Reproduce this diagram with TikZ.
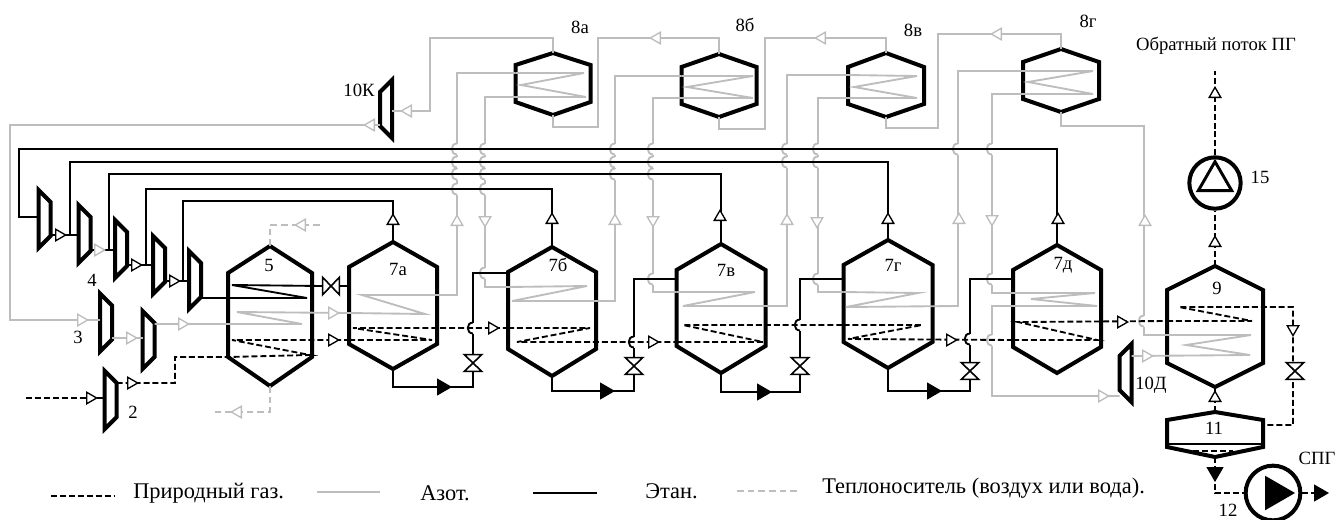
\documentclass[tikz,border=0pt]{standalone}
\usepackage{fontspec}
\setmainfont{Liberation Serif}
\usepackage{xcolor}
\usepackage{tikz}
\usetikzlibrary{shapes.geometric, arrows.meta, positioning}
\definecolor{mygray}{rgb}{0.74, 0.74, 0.74}
\tikzstyle{frame} = [inner sep=0pt, outer sep=0pt]
\tikzstyle{hullline} = [line width=3pt, line join=miter, black]
\tikzstyle{gaz} = [line width=1.4pt, black, dash pattern=on 4.5pt off 2.2pt]
\tikzstyle{azot} = [line width=1.4pt, mygray]
\tikzstyle{etan} = [line width=1.4pt, black]
\tikzstyle{heat} = [line width=1.4pt, mygray, dash pattern=on 5pt off 3pt]
\tikzstyle{tri} = [regular polygon, regular polygon sides=3, minimum size=10pt, inner sep=0pt, draw=black, fill=white, line width=1pt]
\tikzstyle{trigray} = [tri, draw=mygray]
\tikzstyle{trifull} = [tri, minimum size=13pt, fill=black]
\tikzstyle{lab} = [font=\fontsize{14}{16}\selectfont, inner sep=0pt]
\tikzstyle{legendtext} = [font=\fontsize{16.8}{19}\selectfont, inner sep=0pt, anchor=west]
% vessel: name, x, top, upper shoulder, lower shoulder, bottom, half width
\newcommand{\hull}[7]{
\node[frame, minimum width={#7*1.5pt}, minimum height={(#6-#3)*0.75pt}] (#1) at (#2,{(#3+#6)/2}) {};
\draw[hullline] (#1.north) -- (#1.east |- 0,#4) -- (#1.east |- 0,#5) -- (#1.south) -- (#1.west |- 0,#5) -- (#1.west |- 0,#4) -- cycle;
}
% compressor: name, x, y, side of the narrow end
\newcommand{\machine}[4]{
\node[frame, minimum width=9pt, minimum height=43.5pt] (#1) at (#2,#3) {};
\draw[hullline] ({#2-#4*6},#3-29) -- ({#2+#4*6},#3-17) -- ({#2+#4*6},#3+17) -- ({#2-#4*6},#3+29) -- cycle;
}
% valve: name, x, y, rotation
\newcommand{\valve}[4]{
\node[frame, minimum width=13pt, minimum height=12.5pt, rotate=#4] (#1) at (#2,#3) {};
\draw[line width=1.2pt, fill=white] (#1.north west) -- (#1.north east) -- (#1.south west) -- (#1.south east) -- cycle;
}
% line hopping over a crossing
\newcommand{\hop}[3]{
\fill[white] (#2-1.5,#3-5.5) rectangle (#2+1.5,#3+5.5);
\draw[#1] (#2,#3-5.5) .. controls (#2-7,#3-5.5) and (#2-7,#3+5.5) .. (#2,#3+5.5);
}

\begin{document}
\begin{tikzpicture}[x=0.75pt,y=-0.75pt,>=Stealth]
\useasboundingbox (0,0) rectangle (1336,519);

\hull{v5}{270}{246}{273}{357}{386}{42}
\hull{v7a}{393}{242}{267}{344}{369}{44}
\hull{v7b}{552}{247}{272}{349}{376}{44}
\hull{v7v}{721}{244}{270}{346}{373}{44.5}
\hull{v7g}{888}{240}{265}{342}{368}{44.5}
\hull{v7d}{1057}{245}{270}{347}{373}{44}
\hull{v9}{1215}{266}{290}{363}{387}{48}
\hull{v11}{1215}{412}{420}{447}{457}{48}
\hull{e8a}{553}{53}{65}{102}{115}{37.5}
\hull{e8b}{719}{54}{67}{104}{117}{37.5}
\hull{e8v}{886}{53}{67}{104}{117}{38}
\hull{e8g}{1061}{49}{62}{99}{112}{38}

\machine{comp1}{44.5}{219}{1}
\machine{comp2}{84.5}{234}{1}
\machine{comp3}{121}{249}{1}
\machine{comp4}{159}{265}{1}
\machine{comp5}{195}{280}{1}
\machine{tur3a}{106}{322.5}{1}
\machine{tur3b}{148.5}{340}{1}
\machine{tur2}{110.7}{400}{1}
\machine{tur10k}{386}{109}{-1}
\machine{tur10d}{1125.5}{373}{-1}

\node[circle, draw, line width=3pt, minimum size=38.5pt, inner sep=0pt] (pump15) at (1215,183) {};
\node[circle, draw, line width=3pt, minimum size=41pt, inner sep=0pt] (pump12) at (1273,493) {};
\node[regular polygon, regular polygon sides=3, draw, line width=2.2pt, minimum size=29pt, inner sep=0pt] (tri15) at (1215,181) {};
\node[regular polygon, regular polygon sides=3, fill=black, rotate=-90, minimum size=30pt, inner sep=0pt] (tri12) at (1275,493) {};

% nitrogen
\draw[azot] (tur10k.west |- 0,125) -- (10,125) -- (10,320) -- (tur3a.west |- 0,320);
\draw[azot] (tur3a.east |- 0,338) -- (tur3b.west |- 0,338);
\draw[azot] (tur3b.east |- 0,324) -- (302,324) -- (237,312) -- (v7a.west |- 0,313);
\draw[azot] (v7a.west |- 0,313) -- (425,314) -- (362,295) -- (457,295) -- (457,73) -- (e8a.west |- 0,73);
\draw[azot] (e8a.west |- 0,73) -- (584,73) -- (521,85) -- (586,97) -- (485,97) -- (485,287) -- (v7b.west |- 0,287);
\draw[azot] (v7b.west |- 0,287) -- (587,286) -- (512,301) -- (615,301) -- (615,76) -- (e8b.west |- 0,76);
\draw[azot] (e8b.west |- 0,76) -- (753,76) -- (687,87) -- (753,98) -- (653,98) -- (653,292) -- (v7v.west |- 0,292);
\draw[azot] (v7v.west |- 0,292) -- (755,292) -- (683,306) -- (787,306) -- (787,75) -- (e8v.west |- 0,75);
\draw[azot] (e8v.west |- 0,75) -- (917,76) -- (854,87) -- (917,98) -- (818,98) -- (818,292) -- (v7g.west |- 0,292);
\draw[azot] (v7g.west |- 0,292) -- (918,293) -- (846,307) -- (958,306) -- (958,71) -- (e8g.west |- 0,71);
\draw[azot] (e8g.west |- 0,71) -- (1093,71) -- (1028,82) -- (1093,94) -- (992,94) -- (992,293) -- (v7d.west |- 0,293);
\draw[azot] (v7d.west |- 0,293) -- (1095,293) -- (1031,299) -- (1097,306) -- (992,306) -- (992,396) -- (tur10d.west |- 0,396);
\draw[azot] (tur10d.east |- 0,356) -- (1250,355) -- (1186,345) -- (1251,335) -- (1144,335) -- (1144,126) -- (e8g.south |- 0,126) -- (e8g.south);
\draw[azot] (e8g.north) -- (e8g.north |- 0,34) -- (938,34) -- (938,128) -- (e8v.south |- 0,128) -- (e8v.south);
\draw[azot] (e8v.north) -- (e8v.north |- 0,38) -- (765,38) -- (765,129) -- (e8b.south |- 0,129) -- (e8b.south);
\draw[azot] (e8b.north) -- (e8b.north |- 0,38) -- (598,38) -- (598,127) -- (e8a.south |- 0,127) -- (e8a.south);
\draw[azot] (e8a.north) -- (e8a.north |- 0,38) -- (430,38) -- (430,111) -- (tur10k.east |- 0,111);
\foreach \x in {457,485} \foreach \y in {149,162,174,189} {\hop{azot}{\x}{\y}}
\foreach \x in {615,653} \foreach \y in {149,162,174} {\hop{azot}{\x}{\y}}
\foreach \x in {787,818} \foreach \y in {149,162} {\hop{azot}{\x}{\y}}
\foreach \x in {958,992} {\hop{azot}{\x}{149}}
\foreach \x/\y in {485/273,653/279,818/279,992/279,992/340,1144/321} {\hop{azot}{\x}{\y}}

% heat carrier
\draw[heat] (v5.north) -- (v5.north |- 0,225) -- (322,225);
\draw[heat] (v5.south) -- (v5.south |- 0,412) -- (213,412);

% ethane
\draw[etan] (v7a.north) -- (v7a.north |- 0,201) -- (183,201) -- (183,281);
\draw[etan] (v7b.north) -- (v7b.north |- 0,189) -- (145.7,189) -- (145.7,265);
\draw[etan] (v7v.north) -- (v7v.north |- 0,174) -- (109,174) -- (109,250);
\draw[etan] (v7g.north) -- (v7g.north |- 0,162) -- (70,162) -- (70,235);
\draw[etan] (v7d.north) -- (v7d.north |- 0,149) -- (19,149) -- (19,217) -- (comp1.west |- 0,217);
\draw[etan] (comp1.east |- 0,235) -- (comp2.west |- 0,235);
\draw[etan] (comp2.east |- 0,250) -- (comp3.west |- 0,250);
\draw[etan] (comp3.east |- 0,265) -- (comp4.west |- 0,265);
\draw[etan] (comp4.east |- 0,281) -- (comp5.west |- 0,281);
\draw[etan] (comp5.east |- 0,298) -- (307,298) -- (232,285) -- (322,286) -- (v7a.west |- 0,286);
\draw[etan] (v7a.south) -- (v7a.south |- 0,387) -- (473,387) -- (473,273) -- (v7b.west |- 0,273);
\draw[etan] (v7b.south) -- (v7b.south |- 0,391) -- (634,391) -- (634,279) -- (v7v.west |- 0,279);
\draw[etan] (v7v.south) -- (v7v.south |- 0,392) -- (800,392) -- (800,279) -- (v7g.west |- 0,279);
\draw[etan] (v7g.south) -- (v7g.south |- 0,391) -- (970,391) -- (970,279) -- (v7d.west |- 0,279);
\foreach \x/\y in {473/328,634/342,800/325,970/339} {\hop{etan}{\x}{\y}}

% natural gas
\draw[gaz] (26,398) -- (tur2.west |- 0,398);
\draw[gaz] (tur2.east |- 0,383) -- (175,383) -- (175,357) -- (v5.west |- 0,357) -- (310,355) -- (232,340) -- (v7a.west |- 0,340);
\draw[gaz] (v7a.west |- 0,340) -- (432,340) -- (353,328) -- (v7b.west |- 0,328);
\draw[gaz] (v7b.west |- 0,328) -- (590,328) -- (517,342) -- (v7v.west |- 0,342);
\draw[gaz] (v7v.west |- 0,342) -- (763,342) -- (683,325) -- (v7g.west |- 0,325);
\draw[gaz] (v7g.west |- 0,325) -- (922,325) -- (848,339) -- (v7d.west |- 0,340);
\draw[gaz] (v7d.west |- 0,340) -- (1097,340) -- (1018,322) -- (v9.west |- 0,321);
\draw[gaz] (v9.west |- 0,321) -- (1252,321) -- (1179,307) -- (1293,307) -- (1293,425) -- (v11.east |- 0,425);
\draw[gaz] (v11.north) -- (v9.south);
\draw[gaz] (v9.north) -- (pump15.south);
\draw[gaz] (pump15.north) -- (pump15.north |- 0,71);
\draw[gaz] (v11.south) -- (v11.south |- 0,493) -- (pump12.west);
\draw[gaz] (pump12.east) -- (1322,493);

% separator inside
\draw[line width=1pt] (v11.west |- 0,444) -- (v11.east |- 0,444);
\draw[gaz] (1193,451) -- (1233,451);

\foreach \x/\y/\d [count=\i] in {90/398/-90,332/340/-90,492/328/-90,652/342/-90,950/340/-90,1121/322/-90,1293/329/180,1215/398/0,1215/243/0,1215/94/0,135/265/-90,59/235/-90,173/281/-90,393/221/0,552/220/0,720/217/0,888/220/0,1058/220/0,131/383/-90}
  \node[tri, rotate=\d] (ta\i) at (\x,\y) {};
\foreach \x/\y/\d [count=\i] in {371/125/90,81/320/-90,130/338/-90,182/324/-90,332/313/-90,657/38/90,822/38/90,998/34/90,408/111/90,457/222/0,485/220/180,615/221/0,653/220/180,787/221/0,817/221/180,959/220/0,992/219/180,1145/222/0,1102/396/-90,1146/356/-90,98/250/-90,302/225/90,238/412/90}
  \node[trigray, rotate=\d] (tb\i) at (\x,\y) {};
\foreach \x/\y/\d [count=\i] in {442/387/-90,605/391/-90,762/392/-90,932/391/-90,1215/472/180,1319/493/-90}
  \node[trifull, rotate=\d] (tc\i) at (\x,\y) {};

\valve{val5}{331}{286}{90}
\valve{val7a}{473}{363}{0}
\valve{val7b}{634}{366}{0}
\valve{val7v}{800}{366}{0}
\valve{val7g}{970}{371}{0}
\valve{val9}{1295}{371}{0}

\node[lab] (l5) at (269,265) {5};
\node[lab] (l7a) at (398,269) {7а};
\node[lab] (l7b) at (558,265) {7б};
\node[lab] (l7v) at (726,270) {7в};
\node[lab] (l7g) at (893,265) {7г};
\node[lab] (l7d) at (1063,265) {7д};
\node[lab] (l9) at (1217,288) {9};
\node[lab] (l11) at (1214,428) {11};
\node[lab] (l12) at (1228,510) {12};
\node[lab] (l15) at (1260,177) {15};
\node[lab] (l8a) at (580,27) {8а};
\node[lab] (l8b) at (745,25) {8б};
\node[lab] (l8v) at (913,30) {8в};
\node[lab] (l8g) at (1088,21) {8г};
\node[lab] (l10k) at (359,90) {10К};
\node[lab] (l10d) at (1151,385) {10Д};
\node[lab] (l4) at (92,280) {4};
\node[lab] (l3) at (78,337) {3};
\node[lab] (l2) at (133,412) {2};
\node[lab] (lback) at (1216,46) {Обратный поток ПГ};
\node[lab] (lspg) at (1317,458) {СПГ};

% legend
\coordinate (lg1a) at (51,496);
\coordinate (lg1b) at (114,496);
\coordinate (lg2a) at (317,492);
\coordinate (lg2b) at (380,492);
\coordinate (lg3a) at (533,493);
\coordinate (lg3b) at (597,493);
\coordinate (lg4a) at (737,491);
\coordinate (lg4b) at (800,491);
\draw[gaz, line width=2pt] (lg1a) -- (lg1b);
\draw[azot, line width=2pt] (lg2a) -- (lg2b);
\draw[etan, line width=2pt] (lg3a) -- (lg3b);
\draw[heat, line width=2pt] (lg4a) -- (lg4b);
\node[legendtext] (lgt1) at (133,493) {Природный газ.};
\node[legendtext] (lgt2) at (420,493) {Азот.};
\node[legendtext] (lgt3) at (645,491) {Этан.};
\node[legendtext] (lgt4) at (822,488) {Теплоноситель (воздух или вода).};
\end{tikzpicture}
\end{document}
